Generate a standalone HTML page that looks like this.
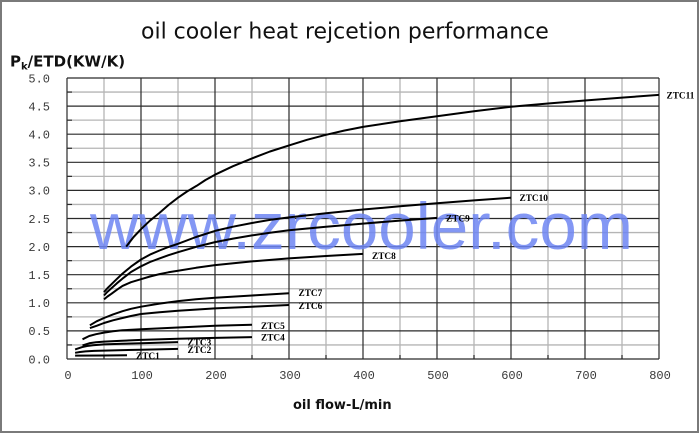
<!DOCTYPE html>
<html>
<head>
<meta charset="utf-8">
<style>
html,body{margin:0;padding:0;background:#fff;}
svg{display:block;}
</style>
</head>
<body>
<svg width="700" height="433" viewBox="0 0 700 433" xmlns="http://www.w3.org/2000/svg">
<rect x="0" y="0" width="700" height="433" fill="#fff"/>
<rect x="1" y="1" width="697" height="431" fill="none" stroke="#7a7a7a" stroke-width="2"/>

<!-- title -->
<text x="141" y="38.5" font-family="DejaVu Sans, Verdana, sans-serif" font-size="22" fill="#111">oil cooler heat rejcetion performance</text>

<!-- y axis title -->
<text x="10" y="66.5" font-family="DejaVu Sans, sans-serif" font-size="15" font-weight="bold" fill="#111">P<tspan font-size="10" dy="3">k</tspan><tspan dy="-3">/ETD(KW/K)</tspan></text>

<!-- minor grid -->
<g stroke="#b5b5b5" stroke-width="1.3" fill="none">
<line x1="104" y1="78" x2="104" y2="359"/>
<line x1="178" y1="78" x2="178" y2="359"/>
<line x1="252" y1="78" x2="252" y2="359"/>
<line x1="326" y1="78" x2="326" y2="359"/>
<line x1="400" y1="78" x2="400" y2="359"/>
<line x1="474" y1="78" x2="474" y2="359"/>
<line x1="548" y1="78" x2="548" y2="359"/>
<line x1="622" y1="78" x2="622" y2="359"/>
<line x1="67" y1="92.05" x2="659" y2="92.05"/>
<line x1="67" y1="120.15" x2="659" y2="120.15"/>
<line x1="67" y1="148.25" x2="659" y2="148.25"/>
<line x1="67" y1="176.35" x2="659" y2="176.35"/>
<line x1="67" y1="204.45" x2="659" y2="204.45"/>
<line x1="67" y1="232.55" x2="659" y2="232.55"/>
<line x1="67" y1="260.65" x2="659" y2="260.65"/>
<line x1="67" y1="288.75" x2="659" y2="288.75"/>
<line x1="67" y1="316.85" x2="659" y2="316.85"/>
<line x1="67" y1="344.95" x2="659" y2="344.95"/>
</g>

<!-- major grid -->
<g stroke="#2a2a2a" stroke-width="1.2" fill="none">
<line x1="67" y1="78" x2="67" y2="359"/>
<line x1="141" y1="78" x2="141" y2="359"/>
<line x1="215" y1="78" x2="215" y2="359"/>
<line x1="289" y1="78" x2="289" y2="359"/>
<line x1="363" y1="78" x2="363" y2="359"/>
<line x1="437" y1="78" x2="437" y2="359"/>
<line x1="511" y1="78" x2="511" y2="359"/>
<line x1="585" y1="78" x2="585" y2="359"/>
<line x1="659" y1="78" x2="659" y2="359"/>
<line x1="67" y1="78" x2="659" y2="78"/>
<line x1="67" y1="106.1" x2="659" y2="106.1"/>
<line x1="67" y1="134.2" x2="659" y2="134.2"/>
<line x1="67" y1="162.3" x2="659" y2="162.3"/>
<line x1="67" y1="190.4" x2="659" y2="190.4"/>
<line x1="67" y1="218.5" x2="659" y2="218.5"/>
<line x1="67" y1="246.6" x2="659" y2="246.6"/>
<line x1="67" y1="274.7" x2="659" y2="274.7"/>
<line x1="67" y1="302.8" x2="659" y2="302.8"/>
<line x1="67" y1="330.9" x2="659" y2="330.9"/>
<line x1="67" y1="359" x2="659" y2="359"/>
<!-- minor ticks -->
<line x1="67" y1="92.05" x2="72" y2="92.05"/>
<line x1="67" y1="120.15" x2="72" y2="120.15"/>
<line x1="67" y1="148.25" x2="72" y2="148.25"/>
<line x1="67" y1="176.35" x2="72" y2="176.35"/>
<line x1="67" y1="204.45" x2="72" y2="204.45"/>
<line x1="67" y1="232.55" x2="72" y2="232.55"/>
<line x1="67" y1="260.65" x2="72" y2="260.65"/>
<line x1="67" y1="288.75" x2="72" y2="288.75"/>
<line x1="67" y1="316.85" x2="72" y2="316.85"/>
<line x1="67" y1="344.95" x2="72" y2="344.95"/>
<line x1="104" y1="355" x2="104" y2="359"/>
<line x1="178" y1="355" x2="178" y2="359"/>
<line x1="252" y1="355" x2="252" y2="359"/>
<line x1="326" y1="355" x2="326" y2="359"/>
<line x1="400" y1="355" x2="400" y2="359"/>
<line x1="474" y1="355" x2="474" y2="359"/>
<line x1="548" y1="355" x2="548" y2="359"/>
<line x1="622" y1="355" x2="622" y2="359"/>
</g>

<!-- watermark -->
<text x="90" y="249" font-family="Liberation Sans, Arial, sans-serif" font-size="66" fill="#6d85f2" fill-opacity="0.85" textLength="543" lengthAdjust="spacingAndGlyphs">www.zrcooler.com</text>

<!-- curves -->
<g stroke="#000" stroke-width="2" fill="none" stroke-linejoin="round" stroke-linecap="butt">
<polyline points="126.2,246.6 133.6,237.0 141.0,229.2 149.9,220.7 159.5,212.9 168.5,205.0 178.0,197.7 187,191.5 196.5,185.9 205.5,180.0 215.0,174.7 233,166.2 252.0,158.4 270,151.5 289.0,145.4 307,139.8 326.0,134.8 344,130.6 363.0,126.9 400.0,121.3 437.0,116.2 474,111.3 511.0,106.7 548,103.5 585.0,100.5 622,97.6 659.0,94.9"/>
<polyline points="104.0,292.1 107.5,288.1 111.4,284.3 117,278.8 122.5,273.6 131,266.6 141.0,259.5 150,254.6 159.5,250.5 168.5,247.0 178.0,243.8 196,237.0 215.0,230.9 233,226.7 252.0,223.0 270,219.9 289.0,217.4 326,213.3 363.0,209.5 400,206.3 437.0,203.3 474,200.4 511.0,197.7"/>
<polyline points="104.0,295.5 107.5,291.7 111.4,288.2 117,283.2 122.5,278.6 131,272.0 141.0,266.3 150,262.0 159.5,258.4 168.5,255.2 178.0,252.2 196,246.9 215.0,242.1 233,238.6 252.0,235.4 270,232.7 289.0,230.3 326,226.7 363.0,223.6 400,220.6 437.0,217.9"/>
<polyline points="104.0,299.4 107.5,296.5 111.4,293.8 117,289.7 122.5,285.9 131,282.2 141.0,279.2 150,276.5 159.5,274.1 168.5,272.3 178.0,270.8 196,267.8 215.0,265.1 252,261.4 289.0,258.4 326,256.0 363.0,253.9"/>
<polyline points="89.9,325.3 96.6,321.3 104.0,318.0 113,314.4 122.5,311.2 131,308.8 141.0,306.7 159.5,303.6 178.0,301.1 196,299.2 215.0,297.7 252.0,295.5 289.0,293.2"/>
<polyline points="89.9,328.1 96.6,325.8 104.0,323.0 113,320.3 122.5,318.0 131,316.0 141.0,314.0 159.5,312.2 178.0,310.7 215.0,308.4 252.0,306.7 289.0,305.0"/>
<polyline points="82.5,339.3 89.2,336.0 96,334.2 104.0,332.6 113,331.3 122.5,330.3 141.0,329.2 178.0,327.5 215.0,325.8 252.0,324.7"/>
<polyline points="82.5,345.5 89.2,343.3 96,342.3 104.0,341.6 122,340.7 141.0,339.9 178.0,338.8 215,337.9 252.0,337.1"/>
<polyline points="75.1,349.4 81.8,347.2 87,346.0 92.9,345.2 104.0,344.4 122,343.8 141.0,343.3 178.0,342.1"/>
<polyline points="75.1,352.8 80,352.0 85.5,351.4 94,350.9 104.0,350.6 141.0,349.7 178.0,348.9"/>
<polyline points="75.1,355.6 104.0,355.5 127.0,355.3"/>
</g>

<!-- series labels -->
<g font-family="Liberation Serif, serif" font-weight="bold" font-size="9.3" fill="#000">
<text x="666.5" y="98.5">ZTC11</text>
<text x="519.5" y="201">ZTC10</text>
<text x="446" y="221.5">ZTC9</text>
<text x="372" y="259">ZTC8</text>
<text x="298.5" y="295.8">ZTC7</text>
<text x="298.5" y="309">ZTC6</text>
<text x="261" y="328.8">ZTC5</text>
<text x="261" y="340.5">ZTC4</text>
<text x="187.5" y="345.3">ZTC3</text>
<text x="187.5" y="353">ZTC2</text>
<text x="136" y="359">ZTC1</text>
</g>

<!-- y tick labels -->
<g font-family="Liberation Mono, monospace" font-size="12" fill="#3a3a3a" text-anchor="end">
<text x="50" y="82.3">5.0</text>
<text x="50" y="110.4">4.5</text>
<text x="50" y="138.5">4.0</text>
<text x="50" y="166.6">3.5</text>
<text x="50" y="194.7">3.0</text>
<text x="50" y="222.8">2.5</text>
<text x="50" y="250.9">2.0</text>
<text x="50" y="279">1.5</text>
<text x="50" y="307.1">1.0</text>
<text x="50" y="335.2">0.5</text>
<text x="50" y="363.3">0.0</text>
</g>

<!-- x tick labels -->
<g font-family="Liberation Mono, monospace" font-size="12" fill="#3a3a3a" text-anchor="middle">
<text x="68" y="379">0</text>
<text x="142" y="379">100</text>
<text x="216" y="379">200</text>
<text x="290" y="379">300</text>
<text x="364" y="379">400</text>
<text x="438" y="379">500</text>
<text x="512" y="379">600</text>
<text x="586" y="379">700</text>
<text x="660" y="379">800</text>
</g>

<!-- x axis title -->
<text x="293" y="409" font-family="DejaVu Sans, sans-serif" font-size="13" font-weight="bold" fill="#111">oil flow-L/min</text>
</svg>
</body>
</html>
